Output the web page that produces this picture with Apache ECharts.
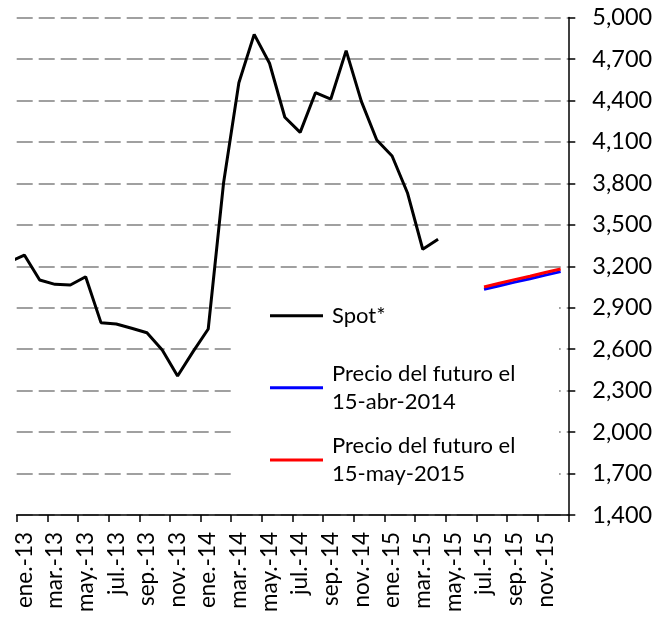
<!DOCTYPE html>
<html><head><meta charset="utf-8">
<script src="https://cdn.jsdelivr.net/npm/echarts@6/dist/echarts.min.js"></script>
<style>html,body{margin:0;padding:0;background:#fff}#c{width:668px;height:621px}</style>
</head><body><div id="c"></div>
<script>
// Categories (monthly, ene.-13 .. dic.-15)
const months = [
  'ene.-13','feb.-13','mar.-13','abr.-13','may.-13','jun.-13','jul.-13','ago.-13','sep.-13','oct.-13','nov.-13','dic.-13',
  'ene.-14','feb.-14','mar.-14','abr.-14','may.-14','jun.-14','jul.-14','ago.-14','sep.-14','oct.-14','nov.-14','dic.-14',
  'ene.-15','feb.-15','mar.-15','abr.-15','may.-15','jun.-15','jul.-15','ago.-15','sep.-15','oct.-15','nov.-15','dic.-15'
];
// Spot value of the month before the first category (dic.-12), only its entering stub is visible
const spotPrevMonth = 3230;
// Spot* (ene.-13 .. abr.-15)
const spotValues = [3281,3100,3069,3064,3124,2792,2782,2751,2719,2594,2406,2580,
                    2746,3802,4528,4878,4669,4278,4169,4456,4410,4760,4391,4114,
                    3998,3732,3323,3395];
// Futures curves (jul.-15 .. dic.-15)
const futuresStartIndex = 30;
const futuresApr2014 = [3033,3059,3085,3110,3136,3161];
const futuresMay2015 = [3050,3077,3103,3128,3155,3180];
const seriesNames = ['Spot*','Precio del futuro el\n15-abr-2014','Precio del futuro el\n15-may-2015'];
const seriesColors = ['#000000','#0000ff','#ff0000'];
const yMin = 1400, yMax = 5000, yStep = 300;

const FONT = 'Lato';
const spotData = [[-1, spotPrevMonth]].concat(spotValues.map((v,i)=>[i,v]));
const futA = futuresApr2014.map((v,i)=>[futuresStartIndex+i, v]);
const futB = futuresMay2015.map((v,i)=>[futuresStartIndex+i, v]);

const chart = echarts.init(document.getElementById('c'), null, {renderer:'canvas'});
function legendFor(name, top, twoLine){
  return {
    data:[name], left:270, top:top, padding:0, orient:'vertical',
    icon:'rect', itemWidth:53, itemHeight:3, selectedMode:false,
    textStyle:{fontFamily:FONT, fontSize:22, color:'#000', lineHeight:28,
               padding: twoLine ? [28,0,0,4] : [0,0,0,4]}
  };
}
chart.setOption({
  animation:false,
  backgroundColor:'#fff',
  textStyle:{fontFamily:FONT},
  grid:{left:16.7, right:99.7, top:17.5, bottom:106, containLabel:false},
  xAxis:[{
    type:'category', data:months, boundaryGap:true,
    axisLine:{show:true, onZero:false, lineStyle:{color:'#000', width:1.5}},
    axisTick:{show:true, interval:1, length:7, lineStyle:{color:'#000', width:1.5}},
    axisLabel:{interval:1, rotate:90, margin:17, fontFamily:FONT, fontSize:22.5, color:'#000'},
    splitLine:{show:false}
  },{
    type:'value', min:-0.5, max:35.5, show:false, splitLine:{show:false}
  }],
  yAxis:{
    type:'value', position:'right', min:yMin, max:yMax, interval:yStep,
    axisLine:{show:true, onZero:false, lineStyle:{color:'#000', width:1.5}},
    axisTick:{show:true, length:7, lineStyle:{color:'#000', width:1.5}},
    axisLabel:{margin:24, fontFamily:FONT, fontSize:23.5, color:'#000'},
    splitLine:{show:true, lineStyle:{color:'#a0a0a0', width:2, type:[16,6]}}
  },
  graphic:[{type:'rect', z:1, left:233, top:296, shape:{width:326, height:208}, style:{fill:'#fff'}}],
  legend:[
    legendFor(seriesNames[0], 301.7, false),
    legendFor(seriesNames[1], 345.7, true),
    legendFor(seriesNames[2], 418, true)
  ],
  series:[
    {name:seriesNames[0], type:'line', xAxisIndex:1, data:spotData, symbol:'none', clip:true,
     lineStyle:{color:seriesColors[0], width:3}, itemStyle:{color:seriesColors[0]}},
    {name:seriesNames[1], type:'line', xAxisIndex:1, data:futA, symbol:'none',
     lineStyle:{color:seriesColors[1], width:3}, itemStyle:{color:seriesColors[1]}},
    {name:seriesNames[2], type:'line', xAxisIndex:1, data:futB, symbol:'none',
     lineStyle:{color:seriesColors[2], width:3}, itemStyle:{color:seriesColors[2]}}
  ]
});
</script></body></html>
